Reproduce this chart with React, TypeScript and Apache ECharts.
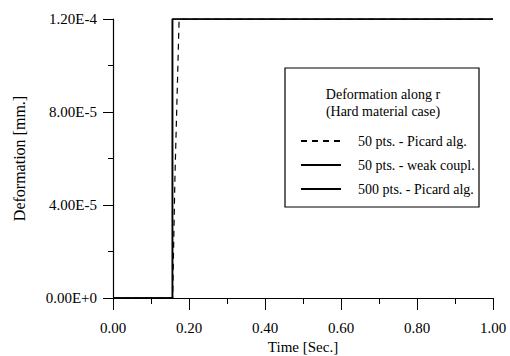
import React, { useEffect, useRef } from "react";
import * as echarts from "echarts";

const FONT = "'Liberation Serif', 'Times New Roman', serif";

const xTicks = [0, 0.2, 0.4, 0.6, 0.8, 1.0];
const yTickLabels = ["0.00E+0", "4.00E-5", "8.00E-5", "1.20E-4"];
const yStep = 4e-5;

const seriesNames = [
  "50 pts. - Picard alg.",
  "50 pts. - weak coupl.",
  "500 pts. - Picard alg.",
];

const picard50: [number, number][] = [
  [0, 0],
  [0.157, 0],
  [0.163, 5.2e-5],
  [0.174, 1.2e-4],
  [1.0, 1.2e-4],
];
const weak50: [number, number][] = [
  [0, 0],
  [0.157, 0],
  [0.157, 1.2e-4],
  [1.0, 1.2e-4],
];
const picard500: [number, number][] = [
  [0, 0],
  [0.156, 0],
  [0.156, 1.2e-4],
  [1.0, 1.2e-4],
];

const legendTitle = ["Deformation along r", "(Hard material case)"];

export default function App() {
  const ref = useRef<HTMLDivElement>(null);
  useEffect(() => {
    if (!ref.current) return;
    const chart = echarts.init(ref.current, null, { renderer: "svg" });
    const axisCommon = {
      axisLine: { show: true, lineStyle: { color: "#000", width: 1.2 } },
      splitLine: { show: false },
      minorSplitLine: { show: false },
    };
    chart.setOption({
      animation: false,
      backgroundColor: "#fff",
      grid: {
        left: 113,
        right: 17,
        top: 19,
        bottom: 58,
        containLabel: false,
        outerBoundsMode: "none",
      },
      xAxis: {
        type: "value",
        min: 0,
        max: 1,
        interval: 0.2,
        ...axisCommon,
        axisTick: { show: true, length: 12, inside: false, lineStyle: { color: "#000" } },
        minorTick: { show: true, splitNumber: 2, length: 6, lineStyle: { color: "#000" } },
        axisLabel: {
          margin: 22,
          fontFamily: FONT,
          fontSize: 15,
          color: "#000",
          formatter: (v: number) => {
            const i = xTicks.findIndex((t) => Math.abs(t - v) < 1e-9);
            return i >= 0 ? xTicks[i].toFixed(2) : "";
          },
        },
        name: "Time [Sec.]",
        nameLocation: "middle",
        nameGap: 40,
        nameTextStyle: { fontFamily: FONT, fontSize: 15, color: "#000" },
      },
      yAxis: {
        type: "value",
        min: 0,
        max: 1.2e-4,
        interval: yStep,
        ...axisCommon,
        axisTick: { show: true, length: 10, inside: false, lineStyle: { color: "#000" } },
        minorTick: { show: true, splitNumber: 2, length: 5, lineStyle: { color: "#000" } },
        axisLabel: {
          margin: 16,
          fontFamily: FONT,
          fontSize: 15,
          color: "#000",
          formatter: (v: number) => yTickLabels[Math.round(v / yStep)] ?? "",
        },
        name: "Deformation [mm.]",
        nameLocation: "middle",
        nameGap: 86,
        nameTextStyle: { fontFamily: FONT, fontSize: 16, color: "#000" },
      },
      legend: {
        show: true,
        orient: "vertical",
        left: 300,
        top: 134,
        itemWidth: 40,
        itemHeight: 14,
        itemGap: 10,
        padding: 0,
        itemStyle: { opacity: 0 },
        textStyle: { fontFamily: FONT, fontSize: 14, color: "#000", padding: [0, 0, 0, 12] },
        data: seriesNames,
      },
      graphic: [
        {
          type: "rect",
          shape: { x: 285, y: 68, width: 194, height: 139 },
          style: { fill: "#fff", stroke: "#000", lineWidth: 1.2 },
          z: 0,
        },
        {
          type: "text",
          x: 383,
          y: 94,
          style: {
            text: legendTitle[0],
            fontFamily: FONT,
            fontSize: 14,
            fill: "#000",
            align: "center",
            verticalAlign: "middle",
          },
        },
        {
          type: "text",
          x: 383,
          y: 111,
          style: {
            text: legendTitle[1],
            fontFamily: FONT,
            fontSize: 14,
            fill: "#000",
            align: "center",
            verticalAlign: "middle",
          },
        },
      ],
      series: [
        {
          name: seriesNames[0],
          type: "line",
          data: picard50,
          showSymbol: false,
          symbol: "none",
          lineStyle: { color: "#000", width: 1.2, type: [6, 5] },
          itemStyle: { color: "#000" },
        },
        {
          name: seriesNames[1],
          type: "line",
          data: weak50,
          showSymbol: false,
          symbol: "none",
          lineStyle: { color: "#000", width: 1.5 },
          itemStyle: { color: "#000" },
        },
        {
          name: seriesNames[2],
          type: "line",
          data: picard500,
          showSymbol: false,
          symbol: "none",
          lineStyle: { color: "#000", width: 1.5 },
          itemStyle: { color: "#000" },
        },
      ],
    });
    return () => chart.dispose();
  }, []);
  return (
    <div
      ref={ref}
      style={{ position: "fixed", left: 0, top: 0, width: 510, height: 356, background: "#fff" }}
    />
  );
}
